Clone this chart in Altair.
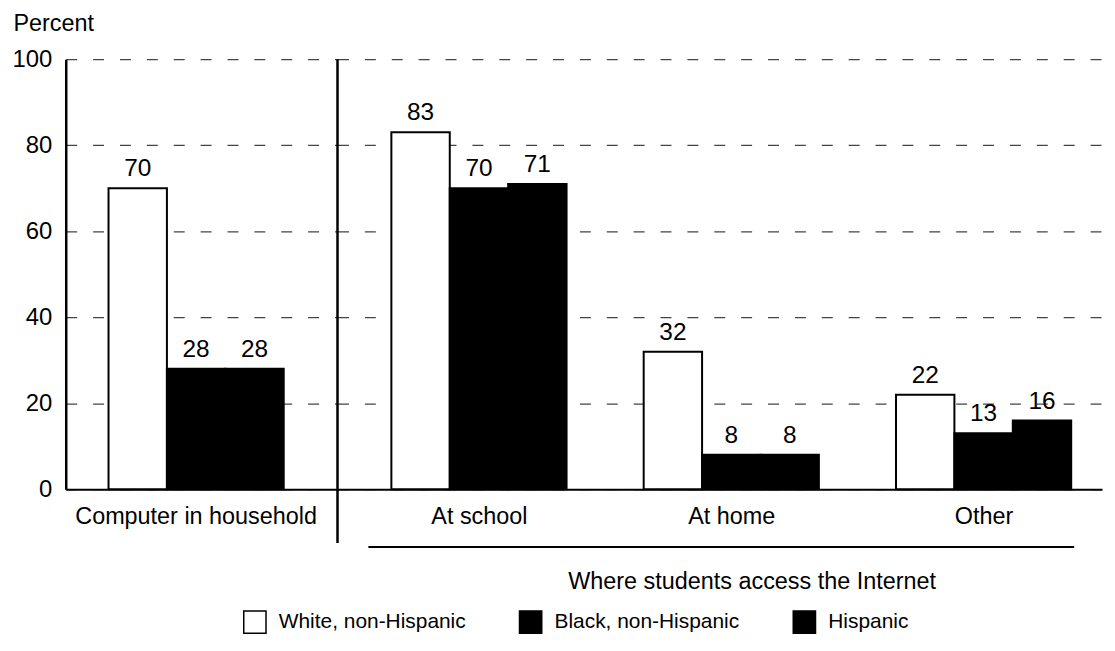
import altair as alt
import pandas as pd

races = ["White, non-Hispanic", "Black, non-Hispanic", "Hispanic"]
fills = ["white", "black", "black"]

household_cat = ["Computer in household"]
household_vals = [70, 28, 28]

access_cats = ["At school", "At home", "Other"]
white_access = [83, 32, 22]
black_access = [70, 8, 13]
hisp_access = [71, 8, 16]

y_ticks = [0, 20, 40, 60, 80, 100]

FONT = "Liberation Sans"

left_df = pd.DataFrame({
    "cat": household_cat * 3,
    "race": races,
    "pct": household_vals,
})
right_rows = []
for i, c in enumerate(access_cats):
    for r, vals in zip(races, [white_access, black_access, hisp_access]):
        right_rows.append({"cat": c, "race": r, "pct": vals[i]})
right_df = pd.DataFrame(right_rows)

color_scale = alt.Scale(domain=races, range=fills)
y_scale = alt.Scale(domain=[0, 100], nice=False)
xoff = alt.XOffset("race:N", sort=races, scale=alt.Scale(paddingInner=0, paddingOuter=0))

grid_kw = dict(grid=True, gridDash=[11, 16], gridColor="#444", gridWidth=1.2, ticks=False)

# ---------- left panel ----------
left_x = alt.X(
    "cat:N", sort=household_cat,
    scale=alt.Scale(paddingInner=0, paddingOuter=0.2756, align=0.443),
    axis=alt.Axis(title=None, labelAngle=0, labelFontSize=23.5, labelPadding=15, labelLimit=400,
                  ticks=False, domainColor="black", domainWidth=2, labelColor="black"),
)
left_y = alt.Y(
    "pct:Q", scale=y_scale,
    axis=alt.Axis(values=y_ticks, title="Percent", titleAngle=0, titleX=-53, titleY=-36,
                  titleAlign="left", titleBaseline="middle", titleFontSize=23.5,
                  titleFontWeight="normal", titleColor="black",
                  labelFontSize=24, labelPadding=14, labelColor="black",
                  domainColor="black", domainWidth=2.5, **grid_kw),
)
left_bars = alt.Chart(left_df).mark_bar(stroke="black", strokeWidth=2).encode(
    x=left_x, xOffset=xoff, y=left_y,
    color=alt.Color("race:N", scale=color_scale, legend=None),
)
left_text = alt.Chart(left_df).mark_text(baseline="bottom", dy=-7, fontSize=24.5, color="black").encode(
    x=alt.X("cat:N", sort=household_cat), xOffset=xoff, y=alt.Y("pct:Q"), text="pct:Q",
)
left = alt.layer(left_bars, left_text).properties(width=273, height=432)

# ---------- right panel ----------
right_x = alt.X(
    "cat:N", sort=access_cats,
    scale=alt.Scale(paddingInner=0.302, paddingOuter=0.166, align=0.643),
    axis=alt.Axis(title="Where students access the Internet", titleX=416, titleY=81,
                  titleBaseline="top", titleAlign="center", titleFontSize=23.5,
                  titleFontWeight="normal", titleColor="black",
                  labelAngle=0, labelFontSize=23.5, labelPadding=15, labelColor="black",
                  ticks=False, domainColor="black", domainWidth=2),
)
right_y = alt.Y(
    "pct:Q", scale=y_scale,
    axis=alt.Axis(values=y_ticks, title=None, labels=False, domain=False, **grid_kw),
)
right_bars = alt.Chart(right_df).mark_bar(stroke="black", strokeWidth=2).encode(
    x=right_x, xOffset=xoff, y=right_y,
    color=alt.Color(
        "race:N", scale=color_scale, title=None,
        legend=alt.Legend(orient="none", legendX=-95, legendY=553, direction="horizontal",
                          symbolType="square", symbolSize=500, symbolStrokeColor="black",
                          symbolStrokeWidth=1.5, labelFontSize=21, labelColor="black",
                          labelOffset=12, columnPadding=50, labelLimit=400),
    ),
)
right_text = alt.Chart(right_df).mark_text(baseline="bottom", dy=-7, fontSize=24.5, color="black").encode(
    x=alt.X("cat:N", sort=access_cats), xOffset=xoff, y=alt.Y("pct:Q"), text="pct:Q",
)
sep = alt.Chart(pd.DataFrame({"k": [0]})).mark_rule(color="black", strokeWidth=2.5).encode(
    x=alt.value(0), y=alt.value(0), y2=alt.value(486)
)
underline = alt.Chart(pd.DataFrame({"k": [0]})).mark_rule(color="black", strokeWidth=2).encode(
    x=alt.value(31), x2=alt.value(740), y=alt.value(490)
)
right = alt.layer(right_bars, right_text, sep, underline).properties(width=768, height=432)

chart = alt.hconcat(left, right, spacing=0, bounds="flush").resolve_scale(
    x="independent", color="independent"
).resolve_legend(color="independent").configure(
    font=FONT
).configure_view(stroke=None).properties(padding={"left": 3, "top": 2, "right": 5, "bottom": 5})

chart.save("out.html", embed_options={"renderer": "svg", "actions": False})
